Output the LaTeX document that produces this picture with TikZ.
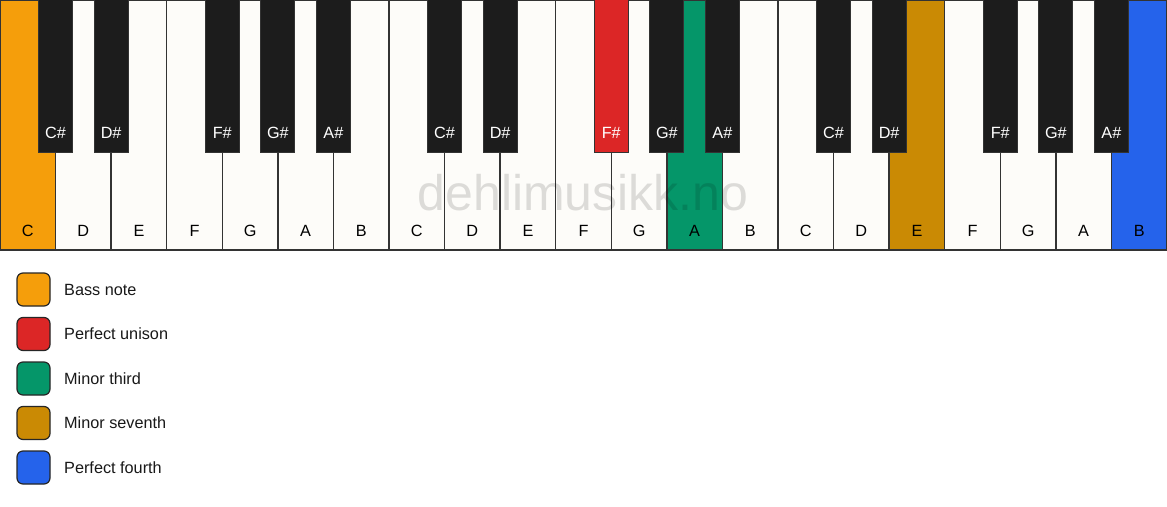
\documentclass[tikz,border=0pt]{standalone}
\usepackage{fontspec}
\setmainfont{Liberation Sans}
\definecolor{wkey}{HTML}{FDFCF9}
\definecolor{bkey}{HTML}{1C1C1C}
\definecolor{edge}{HTML}{333333}
\definecolor{bass}{HTML}{F59E0B}
\definecolor{unison}{HTML}{DC2626}
\definecolor{third}{HTML}{059669}
\definecolor{seventh}{HTML}{CA8A04}
\definecolor{fourth}{HTML}{2563EB}
\tikzset{
  whitekey/.style={draw=edge, line width=1.5pt, rectangle, inner sep=0pt, outer sep=0pt,
    minimum width=55.571pt, minimum height=250pt, anchor=north west},
  blackkey/.style={draw=edge, line width=1pt, rectangle, inner sep=0pt, outer sep=0pt,
    minimum width=34pt, minimum height=153pt, anchor=north},
  wlabel/.style={inner sep=0pt, font=\fontsize{16.25}{16.25}\selectfont, text=black},
  blabel/.style={inner sep=0pt, font=\fontsize{16.25}{16.25}\selectfont, text=white},
  legbox/.style={draw=black!85, line width=1.2pt, rounded corners=6pt, minimum width=33pt, minimum height=33pt, inner sep=0pt},
  legtext/.style={anchor=west, inner sep=0pt, font=\fontsize{16.25}{16.25}\selectfont, text=black!90},
}
\begin{document}
\begin{tikzpicture}[x=1pt,y=-1pt]
\useasboundingbox (0,0) rectangle (1167,506);
\fill[white] (0,0) rectangle (1167,506);
\def\kw{55.571}
% white keys
\foreach \i/\n/\c in {0/C/bass,1/D/wkey,2/E/wkey,3/F/wkey,4/G/wkey,5/A/wkey,6/B/wkey,
  7/C/wkey,8/D/wkey,9/E/wkey,10/F/wkey,11/G/wkey,12/A/third,13/B/wkey,
  14/C/wkey,15/D/wkey,16/E/seventh,17/F/wkey,18/G/wkey,19/A/wkey,20/B/fourth}{
  \node[whitekey, fill=\c] (w\i) at ({\i*\kw},0) {};
  \node[wlabel] (wl\i) at ({(\i+0.5)*\kw},231) {\n};
}
% black keys
\foreach \i/\n/\c in {0/C\#/bkey,1/D\#/bkey,3/F\#/bkey,4/G\#/bkey,5/A\#/bkey,
  7/C\#/bkey,8/D\#/bkey,10/F\#/unison,11/G\#/bkey,12/A\#/bkey,
  14/C\#/bkey,15/D\#/bkey,17/F\#/bkey,18/G\#/bkey,19/A\#/bkey}{
  \node[blackkey, fill=\c] (b\i) at ({(\i+1)*\kw},-1) {};
  \node[blabel] (bl\i) at ({(\i+1)*\kw},133) {\n};
}
% watermark
\node[inner sep=0pt, text=black, text opacity=0.13, font=\fontsize{50}{50}\selectfont] (wm) at (583,193) {dehlimusikk.no};
% legend
\foreach \k/\c/\t in {0/bass/Bass note,1/unison/Perfect unison,2/third/Minor third,3/seventh/Minor seventh,4/fourth/Perfect fourth}{
  \node[legbox, fill=\c] (lb\k) at (33.5,{289.5+44.5*\k}) {};
  \node[legtext] (lt\k) at (64,{289.5+44.5*\k}) {\t};
}
\end{tikzpicture}
\end{document}
